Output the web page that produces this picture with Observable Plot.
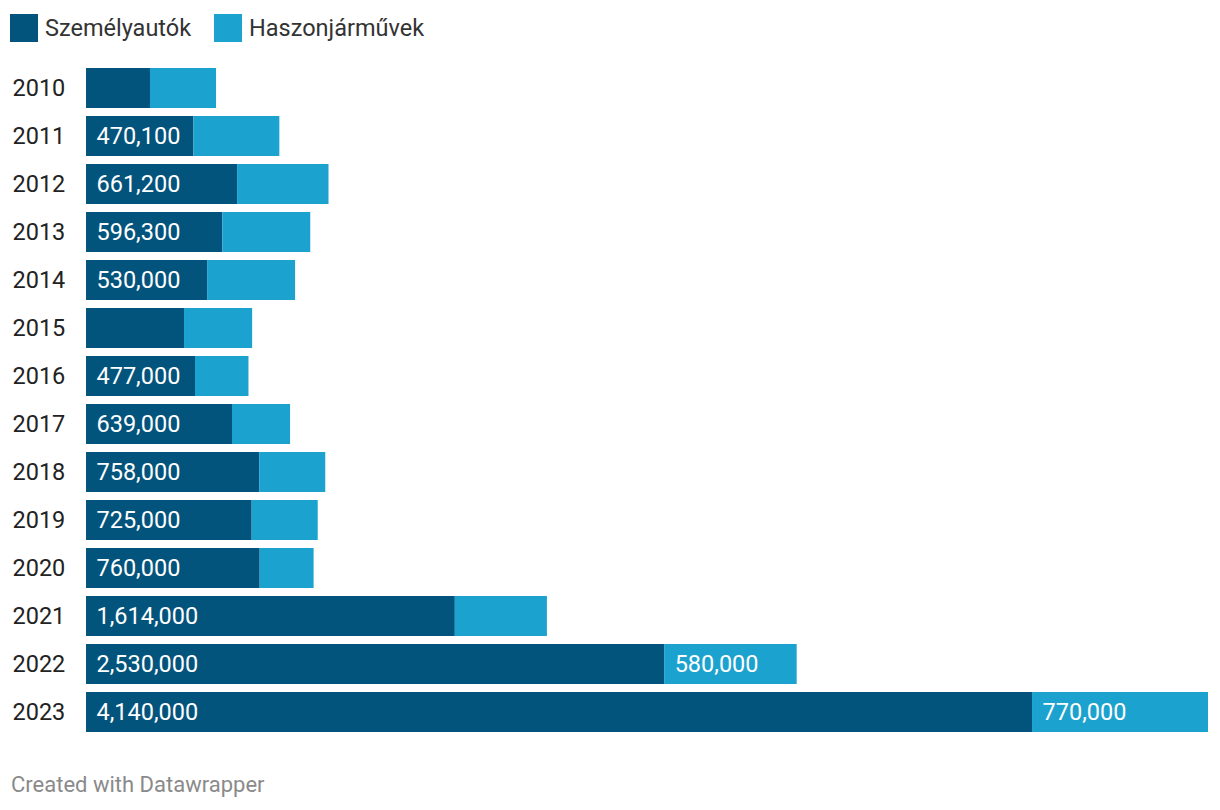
<!DOCTYPE html>
<html>
<head>
<meta charset="utf-8">
<script src="https://cdn.jsdelivr.net/npm/d3@7"></script>
<script src="https://cdn.jsdelivr.net/npm/@observablehq/plot@0.6"></script>
<style>
  body { margin: 0; background: #fff; font-family: Roboto, "Noto Sans", sans-serif; }
  #wrap { position: relative; width: 1220px; height: 810px; }
  .leg { position: absolute; top: 14px; display: flex; align-items: center; font-size: 23.5px; color: #333; }
  .sw { width: 28px; height: 28px; margin-right: 7px; }
  #chart { position: absolute; left: 0; top: 56px; }
  #foot { position: absolute; left: 11px; top: 774px; font-size: 22px; color: #8a8a8a; line-height: 1; }
</style>
</head>
<body>
<div id="wrap">
  <div id="legend"></div>
  <div id="chart"></div>
  <div id="foot">Created with Datawrapper</div>
</div>
<script>
const years = ["2010","2011","2012","2013","2014","2015","2016","2017","2018","2019","2020","2021","2022","2023"];
const seriesNames = ["Személyautók", "Haszonjárművek"];
const cars = [280000, 470100, 661200, 596300, 530000, 429000, 477000, 639000, 758000, 725000, 760000, 1614000, 2530000, 4140000];
const commercial = [289000, 376000, 400000, 385000, 385000, 298000, 234000, 254000, 289000, 289000, 236000, 403000, 580000, 770000];
const colors = ["#03547c", "#1ba2cf"];
// labels are shown only when they fit inside their segment
const carLabelMin = 470000;
const comLabelMin = 500000;

const fmt = d3.format(",");
const rows = [];
years.forEach((y, i) => rows.push({year: y, series: seriesNames[0], value: cars[i], label: cars[i] >= carLabelMin ? fmt(cars[i]) : null}));
years.forEach((y, i) => rows.push({year: y, series: seriesNames[1], value: commercial[i], label: commercial[i] >= comLabelMin ? fmt(commercial[i]) : null}));

const maxTotal = d3.max(years, (y, i) => cars[i] + commercial[i]);

// legend
const legend = document.getElementById("legend");
const legLeft = [10, 214];
seriesNames.forEach((s, i) => {
  const d = document.createElement("div");
  d.className = "leg";
  d.style.left = legLeft[i] + "px";
  d.innerHTML = `<div class="sw" style="background:${colors[i]}"></div><span>${s}</span>`;
  legend.appendChild(d);
});

const chart = Plot.plot({
  width: 1220,
  height: 680,
  marginLeft: 86,
  marginRight: 12,
  marginTop: 8,
  marginBottom: 0,
  style: {fontFamily: "Roboto, sans-serif", fontSize: "23.5px", background: "#fff"},
  x: {domain: [0, maxTotal], axis: null, nice: false},
  y: {domain: years, paddingInner: 8/48, paddingOuter: 4/48, axis: null},
  color: {domain: seriesNames, range: colors},
  marks: [
    Plot.barX(rows, Plot.stackX({y: "year", x: "value", fill: "series", order: seriesNames})),
    Plot.text(rows, Plot.stackX1({y: "year", x: "value", z: "series", order: seriesNames, text: "label", textAnchor: "start", dx: 10, fill: "#fff"})),
    Plot.text(years, {y: d => d, text: d => d, frameAnchor: "left", textAnchor: "start", dx: -74, fill: "#222"})
  ]
});
document.getElementById("chart").appendChild(chart);
</script>
</body>
</html>
